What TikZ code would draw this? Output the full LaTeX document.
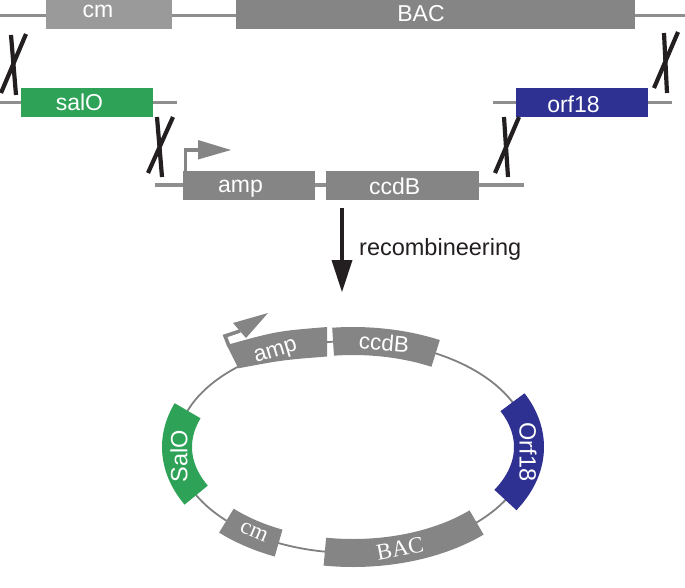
\documentclass[tikz,border=0pt]{standalone}
\usepackage{fontspec}
\setmainfont{Liberation Sans}
\newfontfamily\serifl{Liberation Serif}
\definecolor{boxgray}{HTML}{858585}
\definecolor{cmgray}{HTML}{9A9A9A}
\definecolor{linegray}{HTML}{8E8E8E}
\definecolor{ringgray}{HTML}{808080}
\definecolor{salgreen}{HTML}{2EA357}
\definecolor{orfblue}{HTML}{2E3192}
\definecolor{xblack}{HTML}{231F20}
\tikzset{
  dna/.style={draw=linegray, line width=3pt},
  gbox/.style={fill=boxgray, draw=none, inner sep=0pt, minimum height=29pt, anchor=north west},
  lbl/.style={text=white, font=\fontsize{23}{23}\selectfont, inner sep=0pt, anchor=base},
  rlbl/.style={text=white, font=\fontsize{22.5}{22.5}\selectfont, inner sep=0pt},
  slbl/.style={text=white, font=\serifl\fontsize{23}{23}\selectfont, inner sep=0pt},
  crossline/.style={draw=xblack, line width=4.2pt},
  seg/.style={line width=28pt, draw=boxgray},
  cseg/.style={line width=30pt},
}
\begin{document}
\begin{tikzpicture}[x=1pt,y=-1pt]
\useasboundingbox (0,0) rectangle (685,587);
% ---------- top BAC line ----------
\coordinate (t0) at (0,15); \coordinate (t1) at (685,15);
\draw[dna] (t0) -- (t1);
\node[gbox, fill=cmgray, minimum width=126pt] (cmbox) at (46,0) {};
\node[gbox, minimum width=399pt] (bacbox) at (236,0) {};
\node[lbl] (cmtxt) at (98,17.5) {cm};
\node[lbl] (bactxt) at (421,21.7) {BAC};
% ---------- salO and orf18 ----------
\coordinate (s0) at (0,102); \coordinate (s1) at (177,102);
\draw[dna] (s0) -- (s1);
\node[gbox, fill=salgreen, minimum width=132pt, minimum height=29pt] (salbox) at (20.5,88) {};
\node[lbl] (saltxt) at (79.5,110) {salO};
\coordinate (o0) at (493,102); \coordinate (o1) at (672,102);
\draw[dna] (o0) -- (o1);
\node[gbox, fill=orfblue, minimum width=132pt, minimum height=29pt] (orfbox) at (516,88) {};
\node[lbl] (orftxt) at (573.5,112.7) {orf18};
% ---------- amp ccdB cassette ----------
\coordinate (m0) at (155,185); \coordinate (m1) at (524,185);
\draw[dna, line width=3.6pt] (m0) -- (m1);
\node[gbox, minimum width=132pt] (ampbox) at (183,171) {};
\node[gbox, minimum width=153pt] (ccdbox) at (326,171) {};
\node[lbl] (amptxt) at (240.5,192.7) {amp};
\node[lbl] (ccdtxt) at (394.7,194) {ccdB};
\coordinate (p0) at (185.5,171); \coordinate (p1) at (185.5,150); \coordinate (p2) at (199,150);
\draw[boxgray, line width=3.7pt, line join=miter] (p0) -- (p1) -- (p2);
\fill[boxgray] (198,140) -- (231,150) -- (198,159.5) -- cycle;
% ---------- crosses ----------
\draw[crossline] (1,93) -- (26,34);
\draw[crossline] (11,35) -- (16,95);
\draw[crossline] (654,88) -- (678,32);
\draw[crossline] (664,33) -- (667,93);
\draw[crossline] (148,173) -- (173,117);
\draw[crossline] (157,117) -- (162,177);
\draw[crossline] (495,173) -- (519,117);
\draw[crossline] (504,117) -- (508,177);
% ---------- recombineering arrow ----------
\coordinate (r0) at (342,208); \coordinate (r1) at (342,262);
\draw[xblack, line width=4pt] (r0) -- (r1);
\fill[xblack] (331.5,260) -- (352.5,260) -- (342,292) -- cycle;
\node[anchor=base west, inner sep=0pt, text=xblack, font=\fontsize{23.5}{23.5}\selectfont] (rtxt) at (359,255) {recombineering};
% ---------- plasmid ----------
\draw[ringgray, line width=1.8pt] (353,447) ellipse [x radius=176, y radius=106];
% ccdB
\draw[seg] plot[domain=62:96.5, samples=40, variable=\t] ({353+176*cos(\t)},{447-106*sin(\t)});
% amp
\fill[boxgray] (226.7,345) .. controls (276.85,331.1) .. (327,327) -- (327,356.5) .. controls (282.65,360.0) .. (238.3,368.3) -- cycle;
\draw[boxgray, line width=3.6pt, line join=miter] (229,346) -- (225,336) -- (240,331);
\fill[boxgray] (233,323) -- (268,313) -- (246,338) -- cycle;
% SalO
\draw[cseg, draw=salgreen] plot[domain=160:207, samples=40, variable=\t] ({353+176*cos(\t)},{447-106*sin(\t)});
% Orf18
\draw[cseg, draw=orfblue] plot[domain=-30:25, samples=40, variable=\t] ({353+176*cos(\t)},{447-106*sin(\t)});
% cm
\draw[seg] plot[domain=224:245, samples=30, variable=\t] ({353+176*cos(\t)},{447-106*sin(\t)});
% BAC
\draw[seg] plot[domain=260.8:314.6, samples=40, variable=\t] ({353+176*cos(\t)},{447-106*sin(\t)});
% labels
\node[rlbl, rotate=17] (pamp) at (276,353) {amp};
\node[rlbl, rotate=-5] (pccd) at (384,342.5) {ccdB};
\node[rlbl, rotate=90, font=\fontsize{23.5}{23.5}\selectfont] (psal) at (179,456) {SalO};
\node[rlbl, rotate=-90, font=\fontsize{23.5}{23.5}\selectfont] (porf) at (528,452) {Orf18};
\node[slbl, rotate=-23] (pcm) at (254,532) {cm};
\node[slbl, rotate=11] (pbac) at (400,549) {BAC};
\end{tikzpicture}
\end{document}
